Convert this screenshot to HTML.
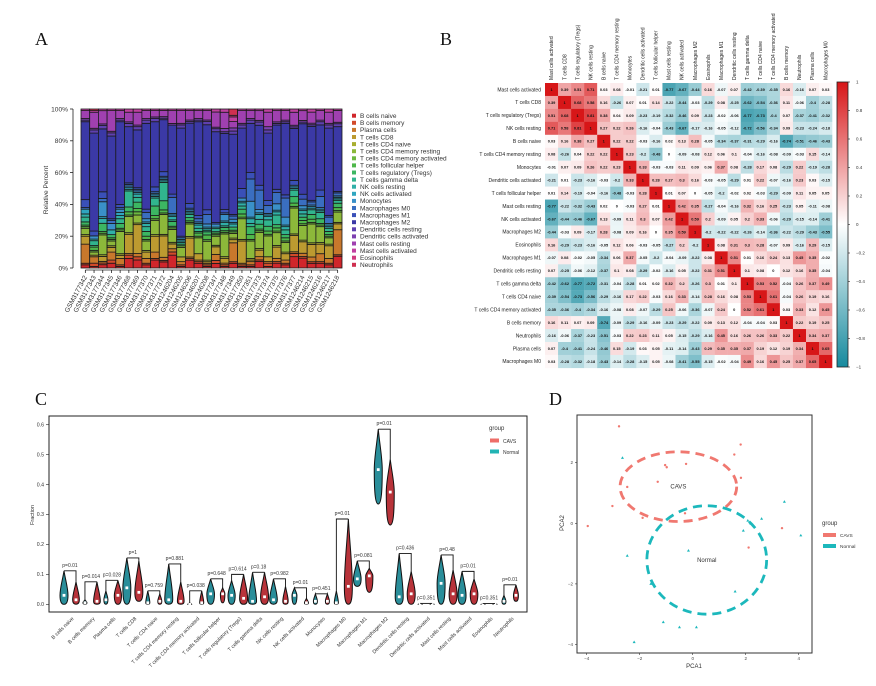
<!DOCTYPE html>
<html><head><meta charset="utf-8"><style>
html,body{margin:0;padding:0;background:#fff;}
svg{display:block;font-family:"Liberation Sans",sans-serif;}
.pl{font-family:"Liberation Serif",serif;font-size:18px;fill:#111;}
</style></head><body>
<svg id="fig" width="876" height="686" viewBox="0 0 876 686" xmlns="http://www.w3.org/2000/svg">
<text class="pl" x="35" y="45">A</text>
<text class="pl" x="440" y="45">B</text>
<text class="pl" x="35" y="405">C</text>
<text class="pl" x="549" y="405">D</text>
<g id="gA"></g>
<g id="gB"></g>
<g id="gC"></g>
<g id="gD"></g>
</svg>
<script>
// ---------- Panel A data ----------
const samples=["GSM3177342","GSM3177343","GSM3177344","GSM3177345","GSM3177346","GSM3177368","GSM3177369","GSM3177370","GSM3177371","GSM3177372","GSM1246204","GSM1246205","GSM1246206","GSM1246207","GSM1246208","GSM3177347","GSM3177348","GSM3177349","GSM3177350","GSM3177351","GSM3177373","GSM3177374","GSM3177375","GSM3177376","GSM3177377","GSM1246214","GSM1246215","GSM1246216","GSM1246217","GSM1246218"];
const cellTypes=["B cells naive","B cells memory","Plasma cells","T cells CD8","T cells CD4 naive","T cells CD4 memory resting","T cells CD4 memory activated","T cells follicular helper","T cells regulatory (Tregs)","T cells gamma delta","NK cells resting","NK cells activated","Monocytes","Macrophages M0","Macrophages M1","Macrophages M2","Dendritic cells resting","Dendritic cells activated","Mast cells resting","Mast cells activated","Eosinophils","Neutrophils"];
const typeColors=["#d0262b","#d24a2a","#c8782c","#bc9a30","#a8ae30","#8cb83a","#6cb840","#4fb84a","#3cb662","#31b48e","#30b0a8","#30a6c0","#3a90c8","#3a6ec0","#3a50b8","#3b39a6","#5f40b0","#7d40b0","#a040b0","#c040a0","#d03a80","#cf3050"];
const bNaive=[2,1,2,3,1,6,5,2,5,4,8,1,5,3,1,3,1,3,1,1,4,1,3,2,7,6,3,3,2,8];
const bMem=[1,2,1,2,1,2,2,1,1,1,2,1,1,1,1,2,1,1,1,1,1,2,1,1,2,1,1,1,1,1];
const plasma=[12,4,1,5,4,1,2,3,4,2,2,2,1,1,1,4,1,12,1,2,2,1,2,2,1,2,3,5,3,17];
const cd8=[5,1,3,3,2,12,18,4,10,14,3,3,12,4,1,5,3,2,14,1,4,3,7,4,10,7,8,6,8,4];
const cd4Naive=[1,0,1,1,1,1,1,1,1,1,1,0,1,0,1,1,1,1,1,1,1,0,1,1,1,1,1,1,1,1];
const cd4Rest=[4,2,12,3,14,10,5,6,9,13,8,6,8,10,12,6,14,3,13,11,10,13,8,6,16,9,12,10,4,7];
const cd4Act=[1,1,1,1,1,1,2,1,1,1,1,1,1,1,1,1,1,1,1,1,1,1,1,1,1,1,1,1,1,1];
const tfh=[1,2,1,1,1,2,2,2,2,2,1,0,1,2,3,1,1,1,2,3,1,2,2,2,2,2,2,1,1,2];
const tregs=[2,1,5,2,3,3,4,3,6,6,3,1,2,1,2,1,2,2,3,5,3,3,2,2,4,2,3,3,2,3];
const gammaDelta=[3,3,0,0,3,10,3,3,5,12,1,1,2,2,1,2,1,0,2,2,3,4,6,3,4,2,3,4,2,2];
const nkRest=[2,1,3,3,2,1,2,2,1,1,2,1,1,2,1,1,2,2,2,3,3,2,2,2,1,2,1,1,1,1];
const nkAct=[3,0,1,0,2,1,1,1,1,1,1,1,1,1,1,0,1,1,1,1,1,1,1,1,1,1,1,1,1,1];
const mono=[0,2,9,4,2,1,1,2,1,1,1,1,1,1,2,2,4,2,2,10,2,1,4,5,1,2,1,1,1,1];
const m0=[1,0,2,2,1,1,1,4,1,1,10,0,1,2,6,0,1,2,0,14,12,5,7,12,0,4,2,7,4,2];
const m1=[5,3,4,1,2,1,1,2,3,3,2,1,3,2,3,1,2,1,6,4,3,3,2,2,3,3,1,4,1,1];
const m2=[49,61,38,52,52,35,36,54,41,34,43,68,51,59,54,60,47,51,38,31,37,42,40,45,32,43,47,41,55,44];
const dcRest=[1,2,2,2,1,2,2,2,2,1,0,2,1,1,2,2,1,2,2,2,2,2,1,1,1,1,1,2,2,2];
const dcAct=[1,1,1,1,1,1,1,1,1,1,1,1,1,1,1,1,2,2,1,1,1,2,1,1,1,1,1,1,1,1];
const mastRest=[5,10,8,13,5,6,8,5,4,4,8,8,6,5,6,10,10,4,8,5,6,9,7,6,8,6,7,6,7,8];
const mastAct=[1,1,1,1,1,2,2,1,1,1,1,1,1,1,1,2,2,3,1,1,1,2,1,1,2,1,2,1,2,1];
const eos=[0,0,0,0,0,0,0,0,0,0,0,0,0,0,0,0,0,1,0,0,0,0,0,0,0,0,0,0,0,0];
const neut=[0,1,0,0,0,0,0,0,0,0,0,0,0,0,0,0,0,4,0,0,0,0,0,0,0,0,0,0,0,0];
const seriesA=[bNaive,bMem,plasma,cd8,cd4Naive,cd4Rest,cd4Act,tfh,tregs,gammaDelta,nkRest,nkAct,mono,m0,m1,m2,dcRest,dcAct,mastRest,mastAct,eos,neut];
const pctTicks=["0%","20%","40%","60%","80%","100%"];

// ---------- Panel B data ----------
const corrLabels=["Mast cells activated","T cells CD8","T cells regulatory (Tregs)","NK cells resting","B cells naive","T cells CD4 memory resting","Monocytes","Dendritic cells activated","T cells follicular helper","Mast cells resting","NK cells activated","Macrophages M2","Eosinophils","Macrophages M1","Dendritic cells resting","T cells gamma delta","T cells CD4 naive","T cells CD4 memory activated","B cells memory","Neutrophils","Plasma cells","Macrophages M0"];
const corrRows=[
[1,.39,.51,.71,.03,.08,-.01,-.21,.01,-.77,-.67,-.44,.16,-.07,.07,-.42,-.39,-.35,.16,-.16,.07,.03],
[.39,1,.68,.58,.16,-.26,.07,.01,.14,-.22,-.44,-.03,-.29,.08,-.25,-.62,-.54,-.36,.11,-.06,-.4,-.28],
[.51,.68,1,.81,.38,.04,.09,-.23,-.19,-.32,-.46,.09,-.23,-.02,-.06,-.77,-.73,-.4,.07,-.37,-.41,-.32],
[.71,.58,.81,1,.27,.22,.26,-.16,-.04,-.43,-.67,-.17,-.16,-.05,-.12,-.72,-.56,-.34,.09,-.23,-.24,-.18],
[.03,.16,.38,.27,1,.22,.22,-.03,-.16,.02,.13,.28,-.05,-.34,-.37,-.31,-.29,-.16,-.74,-.51,-.46,-.43],
[.08,-.26,.04,.22,.22,1,.23,-.2,-.48,0,-.09,-.08,.12,.06,.1,-.04,-.16,-.08,-.09,-.03,.15,-.14],
[-.01,.07,.09,.26,.22,.23,1,.33,-.03,-.03,.11,.09,.06,.37,.08,-.28,.17,.08,-.29,.22,-.19,-.28],
[-.21,.01,-.23,-.16,-.03,-.2,.33,1,.28,.27,.3,.16,-.03,-.05,-.29,.01,.22,-.07,-.16,.23,.03,-.15],
[.01,.14,-.19,-.04,-.16,-.48,-.03,.28,1,.01,.07,0,-.05,-.2,-.02,.02,-.03,-.29,-.09,.11,.05,.05],
[-.77,-.22,-.32,-.43,.02,0,-.03,.27,.01,1,.42,.35,-.27,-.04,-.16,.32,.16,.25,-.23,.05,-.11,-.08],
[-.67,-.44,-.46,-.67,.13,-.09,.11,.3,.07,.42,1,.59,.2,-.09,.05,.2,.33,-.06,-.29,-.15,-.14,-.41],
[-.44,-.03,.09,-.17,.28,-.08,.09,.16,0,.35,.59,1,-.2,-.22,-.22,-.26,-.14,-.36,-.22,-.29,-.43,-.55],
[.16,-.29,-.23,-.16,-.05,.12,.06,-.03,-.05,-.27,.2,-.2,1,.08,.31,.3,.28,-.07,.09,-.16,.29,-.15],
[-.07,.08,-.02,-.05,-.34,.06,.37,-.05,-.2,-.04,-.09,-.22,.08,1,.51,.01,.16,.24,.13,.45,.35,-.02],
[.07,-.25,-.06,-.12,-.37,.1,.08,-.29,-.02,-.16,.05,-.22,.31,.51,1,.1,.08,0,.12,.16,.35,-.04],
[-.42,-.62,-.77,-.72,-.31,-.04,-.28,.01,.02,.32,.2,-.26,.3,.01,.1,1,.53,.52,-.04,.26,.37,.49],
[-.39,-.54,-.73,-.56,-.29,-.16,.17,.22,-.03,.16,.33,-.14,.28,.16,.08,.53,1,.61,-.04,.26,.19,.16],
[-.35,-.36,-.4,-.34,-.16,-.08,.08,-.07,-.29,.25,-.06,-.36,-.07,.24,0,.52,.61,1,.03,.33,.12,.45],
[.16,.11,.07,.09,-.74,-.09,-.29,-.16,-.09,-.23,-.29,-.22,.09,.13,.12,-.04,-.04,.03,1,.22,.19,.25],
[-.16,-.06,-.37,-.23,-.51,-.03,.22,.23,.11,.05,-.15,-.29,-.16,.45,.16,.26,.26,.33,.22,1,.34,.37],
[.07,-.4,-.41,-.24,-.46,.15,-.19,.03,.05,-.11,-.14,-.43,.29,.35,.35,.37,.19,.12,.19,.34,1,.65],
[.03,-.28,-.32,-.18,-.43,-.14,-.28,-.15,.05,-.08,-.41,-.55,-.15,-.02,-.04,.49,.16,.45,.25,.37,.65,1]];
const cbTicks=[1,0.8,0.6,0.4,0.2,0,-0.2,-0.4,-0.6,-0.8,-1];

// ---------- Panel C data ----------
const violinCats=["B cells naive","B cells memory","Plasma cells","T cells CD8","T cells CD4 naive","T cells CD4 memory resting","T cells CD4 memory activated","T cells follicular helper","T cells regulatory (Tregs)","T cells gamma delta","NK cells resting","NK cells activated","Monocytes","Macrophages M0","Macrophages M1","Macrophages M2","Dendritic cells resting","Dendritic cells activated","Mast cells resting","Mast cells activated","Eosinophils","Neutrophils"];
const normalMed=[.03,.005,.015,.055,.005,.015,0,.035,.03,.01,.015,.03,.01,.005,.085,.45,.025,0,.07,.03,0,.01];
const normalMax=[.112,.015,.045,.155,.045,.135,.005,.085,.08,.107,.085,.055,.035,.045,.145,.585,.17,.003,.165,.11,.002,.03];
const normalMin=[0,0,0,0,0,0,0,0,0,0,0,0,0,0,.06,.335,0,0,0,0,0,0];
const cavsMed=[.015,.01,.03,.04,.01,.01,.005,.035,.02,.025,.01,.005,.01,.06,.095,.375,.035,0,.035,.035,0,.03];
const cavsMax=[.075,.075,.08,.145,.035,.075,.045,.055,.1,.107,.06,.02,.035,.285,.12,.485,.11,.003,.115,.085,.003,.065];
const cavsMin=[0,0,0,.01,0,0,0,.005,0,0,0,0,0,0,.04,.265,0,0,0,0,0,.01];
const pValues=["p=0.01","p=0.014","p=0.028","p=1","p=0.759","p=0.881","p=0.038","p=0.648","p=0.614","p=0.18","p=0.982","p=0.01","p=0.451","p=0.01","p=0.081","p=0.01","p=0.436","p=0.351","p=0.48","p=0.01","p=0.351","p=0.01"];
const fracTicks=[0,0.1,0.2,0.3,0.4,0.5,0.6];

// ---------- Panel D data ----------
const cavsX=[-2.78,-3.96,-3.03,-2.47,-1.89,-1.32,-1.04,-0.98,-0.25,-0.29,1.57,1.81,1.82,2.11,3.37];
const cavsY=[3.2,-0.09,0.57,1.2,0.18,1.37,1.92,1.85,1.96,0.33,2.27,2.6,1.5,-0.8,-0.16];
const normX=[-2.65,-2.47,-2.21,-1.58,-1.11,-0.5,-0.16,0.14,1.6,1.91,2.08,2.19,2.6,3.46,4.08];
const normY=[2.16,-1.07,-3.92,-2.0,-3.26,-3.43,-0.9,-3.43,-2.25,-0.24,0.09,-0.01,0.15,0.71,-0.4];
const ellipseCenters=[[-0.54,1.21],[0.53,-1.21]];
const ellipseRadii=[[2.2,1.15],[2.26,1.79]];
const pcaTicks=[-4,-2,0,2,4];

const NS="http://www.w3.org/2000/svg";
function mk(parent,tag,attrs,txt){const e=document.createElementNS(NS,tag);for(const k in attrs)e.setAttribute(k,attrs[k]);if(txt!==undefined)e.textContent=txt;parent.appendChild(e);return e;}

// ===== Panel A =====
(function(){
const g=document.getElementById('gA');
const x0=81,pitch=8.7,yB=268,yT=109;
const yA=p=>yB-(yB-yT)*p/100;
samples.forEach((s,i)=>{
  let tot=0;seriesA.forEach(a=>tot+=a[i]);
  let cum=0;
  seriesA.forEach((a,k)=>{
    const v=a[i]/tot*100;if(v<=0)return;
    const r=mk(g,'rect',{x:x0+i*pitch,y:yA(cum+v),width:pitch,height:yA(cum)-yA(cum+v),fill:typeColors[k],stroke:'#1a1a1a','stroke-width':0.8});
    
    
    cum+=v;
  });
  const cx=x0+i*pitch+pitch/2;
  mk(g,'line',{x1:cx,x2:cx,y1:270,y2:273,stroke:'#222','stroke-width':0.8});
  const t=mk(g,'text',{x:cx+2,y:277,'font-size':6.6,fill:'#333','text-anchor':'end',transform:`rotate(-62 ${cx+2} 277)`},s);
  
  
});
mk(g,'line',{x1:x0+pitch/2,x2:x0+29*pitch+pitch/2,y1:270,y2:270,stroke:'#222','stroke-width':0.8});
mk(g,'line',{x1:73,x2:73,y1:yT,y2:yB,stroke:'#222','stroke-width':0.8});
pctTicks.forEach((t,k)=>{const y=yA(k*20);mk(g,'line',{x1:70,x2:73,y1:y,y2:y,stroke:'#222','stroke-width':0.8});
  const e=mk(g,'text',{x:68,y:y+2.3,'font-size':6.6,fill:'#333','text-anchor':'end'},t);
  });
const yl=mk(g,'text',{x:48,y:190,'font-size':6.6,fill:'#333','text-anchor':'middle',transform:'rotate(-90 48 190)'},'Relative Percent');

cellTypes.forEach((c,k)=>{const y=116+k*7.1;
  mk(g,'rect',{x:352,y:y-2.3,width:4,height:4,fill:typeColors[k]});
  const e=mk(g,'text',{x:360,y:y+2,'font-size':6.5,fill:'#333'},c);
  });
})();

// ===== Panel B =====
(function(){
const g=document.getElementById('gB');
const x0=545,y0=83,cw=13.05,ch=12.95;
function col(v){const r=v>=0?[215,22,24]:[22,138,158];const a=Math.abs(v);
  return `rgb(${Math.round(255+(r[0]-255)*a)},${Math.round(255+(r[1]-255)*a)},${Math.round(255+(r[2]-255)*a)})`;}
corrRows.forEach((row,i)=>{row.forEach((v,j)=>{
  const r=mk(g,'rect',{x:x0+j*cw,y:y0+i*ch,width:cw+0.2,height:ch+0.2,fill:col(v)});
  
  mk(g,'text',{x:x0+j*cw+cw/2,y:y0+i*ch+ch/2+1.4,'font-size':3.9,'font-weight':'bold',fill:'#111','text-anchor':'middle'},v===1?'1':(v===0?'0':String(v)));
});});
corrLabels.forEach((l,i)=>{
  const e=mk(g,'text',{x:541,y:y0+i*ch+ch/2+1.8,'font-size':5,fill:'#222','text-anchor':'end'},l);
  
  const cx=x0+i*cw+cw/2+1.7;
  const c=mk(g,'text',{x:cx,y:80,'font-size':5,fill:'#222',transform:`rotate(-90 ${cx} 80)`},l);
  
});
const defs=mk(g,'defs',{});const lg=mk(defs,'linearGradient',{id:'cbg',x1:0,y1:0,x2:0,y2:1});
[[0,col(1)],[0.5,'#fff'],[1,col(-1)]].forEach(s=>mk(lg,'stop',{offset:s[0],'stop-color':s[1]}));
const cb=mk(g,'rect',{x:837,y:82,width:11,height:285,fill:'url(#cbg)',stroke:'#222','stroke-width':0.8});

cbTicks.forEach(t=>{const y=82+(1-t)/2*285;mk(g,'line',{x1:848,x2:850,y1:y,y2:y,stroke:'#222','stroke-width':0.6});
  const e=mk(g,'text',{x:856,y:y+1.5,'font-size':4.5,fill:'#333'},String(t).replace('-','−'));
  });
})();

// ===== Panel C =====
(function(){
const g=document.getElementById('gC');
const yC=v=>604.3-v*299.3;const xc=i=>70+i*20.95;
const fr=mk(g,'rect',{x:49,y:416,width:478,height:196,fill:'none',stroke:'#222','stroke-width':1});

fracTicks.forEach(t=>{const y=yC(t);mk(g,'line',{x1:46,x2:49,y1:y,y2:y,stroke:'#222','stroke-width':0.6});
  const e=mk(g,'text',{x:44,y:y+1.7,'font-size':5.2,fill:'#333','text-anchor':'end'},t.toFixed(1));
  });
const yl=mk(g,'text',{x:34,y:515,'font-size':5.5,fill:'#333','text-anchor':'middle',transform:'rotate(-90 34 515)'},'Fraction');

function violin(cx,mn,md,mx,fill){
  const yb=yC(mn),ym=yC(md),yt=yC(mx);const w=Math.min(4,Math.max(2,(yb-yt)*0.15));
  const d=`M${cx},${yt} C${cx+w*0.4},${yt+(ym-yt)*0.4} ${cx+w},${ym-(ym-yt)*0.3} ${cx+w},${ym} C${cx+w},${ym+(yb-ym)*0.6} ${cx+w*0.8},${yb} ${cx},${yb} C${cx-w*0.8},${yb} ${cx-w},${ym+(yb-ym)*0.6} ${cx-w},${ym} C${cx-w},${ym-(ym-yt)*0.3} ${cx-w*0.4},${yt+(ym-yt)*0.4} ${cx},${yt}Z`;
  const p=mk(g,'path',{d:d,fill:fill,stroke:'#111','stroke-width':1});
  
  mk(g,'rect',{x:cx-1.4,y:ym-1.4,width:2.8,height:2.8,fill:'#fff'});
}
violinCats.forEach((c,i)=>{
  const cx=xc(i);
  violin(cx-6,normalMin[i],normalMed[i],normalMax[i],'#2a8e9a');
  violin(cx+6,cavsMin[i],cavsMed[i],cavsMax[i],'#b8333a');
  const top=Math.max(normalMax[i],cavsMax[i]);const yt=yC(top);
  mk(g,'path',{d:`M${cx-6},${yC(normalMax[i])} L${cx-6},${yt} L${cx+6},${yt} L${cx+6},${yC(cavsMax[i])}`,fill:'none',stroke:'#111','stroke-width':0.9});
  const p=mk(g,'text',{x:cx,y:yt-4,'font-size':5,fill:'#333','text-anchor':'middle'},pValues[i]);
  
  const t=mk(g,'text',{x:cx+4,y:619,'font-size':5.2,fill:'#333','text-anchor':'end',transform:`rotate(-45 ${cx+4} 619)`},c);
  
});
mk(g,'text',{x:489,y:430,'font-size':6,fill:'#333'},'group');
[['CAVS','#ee6e68',441],['Normal','#22b4b4',452]].forEach(l=>{
  const r=mk(g,'rect',{x:490,y:l[2]-2.5,width:9,height:4,fill:l[1]});
  
  const e=mk(g,'text',{x:503,y:l[2]+1.8,'font-size':5,fill:'#333'},l[0]);
  });
})();

// ===== Panel D =====
(function(){
const g=document.getElementById('gD');
const X=v=>692.7+v*26.5,Y=v=>523.3-v*30.3;
const fr=mk(g,'rect',{x:577,y:415,width:235,height:238,fill:'#fff',stroke:'#333','stroke-width':1});

const cols=['#f07870','#1cb8bc'];
ellipseCenters.forEach((c,k)=>{
  const e=mk(g,'ellipse',{cx:X(c[0]),cy:Y(c[1]),rx:ellipseRadii[k][0]*26.5,ry:ellipseRadii[k][1]*30.3,fill:'none',stroke:cols[k],'stroke-width':2.8,'stroke-dasharray':'9 6'});
  
});
cavsX.forEach((x,i)=>{const p=mk(g,'circle',{cx:X(x),cy:Y(cavsY[i]),r:1.2,fill:cols[0]});
  });
normX.forEach((x,i)=>{const px=X(x),py=Y(normY[i]);
  const p=mk(g,'path',{d:`M${px},${py-1.6} L${px+1.5},${py+1} L${px-1.5},${py+1}Z`,fill:cols[1]});
  });
mk(g,'text',{x:X(-0.54),y:Y(1.21)+2,'font-size':6,fill:'#333','text-anchor':'middle'},'CAVS');
mk(g,'text',{x:X(0.53),y:Y(-1.21)+2,'font-size':6,fill:'#333','text-anchor':'middle'},'Normal');
pcaTicks.forEach(t=>{
  mk(g,'line',{x1:X(t),x2:X(t),y1:653,y2:655,stroke:'#333','stroke-width':0.6});
  const e=mk(g,'text',{x:X(t),y:660,'font-size':4.5,fill:'#444','text-anchor':'middle'},String(t).replace('-','−'));
  
  if(t<4){mk(g,'line',{x1:575,x2:577,y1:Y(t),y2:Y(t),stroke:'#333','stroke-width':0.6});
  const f=mk(g,'text',{x:573,y:Y(t)+1.5,'font-size':4.5,fill:'#444','text-anchor':'end'},String(t).replace('-','−'));
  }
});
mk(g,'text',{x:694,y:668,'font-size':6,fill:'#333','text-anchor':'middle'},'PCA1');
mk(g,'text',{x:564,y:523,'font-size':6,fill:'#333','text-anchor':'middle',transform:'rotate(-90 564 523)'},'PCA2');
mk(g,'text',{x:822,y:525,'font-size':6,fill:'#333'},'group');
[['CAVS',cols[0],535],['Normal',cols[1],546]].forEach(l=>{
  const r=mk(g,'rect',{x:823,y:l[2]-2,width:13,height:4,fill:l[1]});
  
  const e=mk(g,'text',{x:840,y:l[2]+1.8,'font-size':4.8,fill:'#333'},l[0]);
  });
})();
</script>
</body></html>
